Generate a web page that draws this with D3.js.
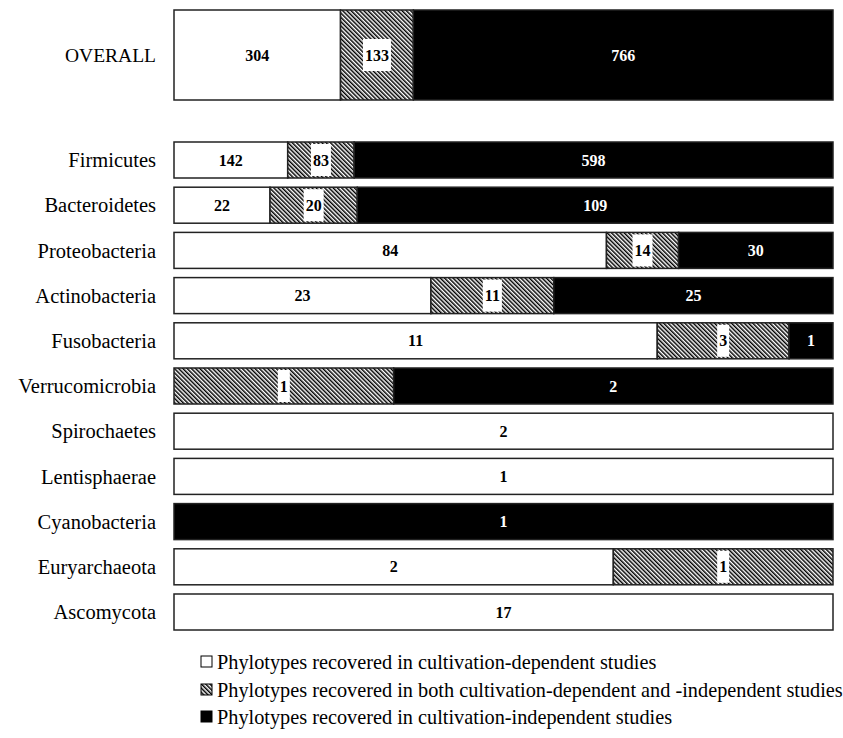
<!DOCTYPE html>
<html><head><meta charset="utf-8">
<script src="https://cdn.jsdelivr.net/npm/d3@7"></script>
<style>body{margin:0;background:#fff}svg{display:block}</style>
</head><body>
<script>
const overallLabel = "OVERALL";
const overallValues = [304, 133, 766];
const categories = ["Firmicutes","Bacteroidetes","Proteobacteria","Actinobacteria","Fusobacteria","Verrucomicrobia","Spirochaetes","Lentisphaerae","Cyanobacteria","Euryarchaeota","Ascomycota"];
const dependent   = [142, 22, 84, 23, 11, 0, 2, 1, 0, 2, 17];
const both        = [83, 20, 14, 11, 3, 1, 0, 0, 0, 1, 0];
const independent = [598, 109, 30, 25, 1, 2, 0, 0, 1, 0, 0];
const seriesNames = ["Phylotypes recovered in cultivation-dependent studies",
  "Phylotypes recovered in both cultivation-dependent and -independent studies",
  "Phylotypes recovered in cultivation-independent studies"];

const W = 843, H = 738;
const svg = d3.select("body").append("svg").attr("width", W).attr("height", H);
const defs = svg.append("defs");
const pat = defs.append("pattern").attr("id","hatch").attr("patternUnits","userSpaceOnUse")
  .attr("width",3).attr("height",3).attr("patternTransform","rotate(-45)");
pat.append("rect").attr("width",3).attr("height",3).attr("fill","#fff");
pat.append("rect").attr("x",0).attr("width",1.5).attr("height",3).attr("fill","#000");

const fills = ["#fff","url(#hatch)","#000"];
const x0 = 174, x1 = 833;
const font = "'Liberation Serif','Times New Roman',serif";

const rows = [{name: overallLabel, vals: overallValues, y: 10, h: 90, overall: true}];
const yBand = d3.scaleBand().domain(categories).range([142, 630]).paddingInner(0.2035);
categories.forEach((c,i) => rows.push({name: c, vals: [dependent[i], both[i], independent[i]], y: yBand(c), h: yBand.bandwidth()}));

rows.forEach(r => {
  const total = d3.sum(r.vals);
  const xs = d3.scaleLinear().domain([0,total]).range([x0,x1]);
  const g = svg.append("g");
  let acc = 0;
  const segs = r.vals.map((v,k) => { const s = {k, v, a: acc, b: acc+v}; acc += v; return s; }).filter(s => s.v > 0);
  segs.forEach(s => {
    g.append("rect").attr("x", xs(s.a)).attr("y", r.y).attr("width", xs(s.b)-xs(s.a)).attr("height", r.h)
      .attr("fill", fills[s.k]).attr("stroke","#222").attr("stroke-width",1.5);
  });
  segs.forEach(s => {
    const cx = (xs(s.a)+xs(s.b))/2, cy = r.y + r.h/2;
    const t = g.append("text").attr("x",cx).attr("y",cy).attr("dy","0.35em").attr("text-anchor","middle")
      .attr("font-family",font).attr("font-weight","bold").attr("font-size",16)
      .attr("fill", s.k===2 ? "#fff" : "#000").text(s.v);
    if (s.k === 1) {
      const bb = t.node().getBBox();
      g.insert("rect", "text").attr("x", bb.x-2).attr("y", cy - (r.overall ? 16 : r.h/2 - 2))
        .attr("width", bb.width+4).attr("height", r.overall ? 32 : r.h - 4).attr("fill","#fff");
    }
  });
  svg.append("text").attr("x", 156).attr("y", r.y + r.h/2).attr("dy","0.35em").attr("text-anchor","end")
    .attr("font-family",font).attr("font-size", r.overall ? 19.5 : 20.5).attr("fill","#000").text(r.name);
});

const legY = [662, 690, 717];
seriesNames.forEach((n,i) => {
  svg.append("rect").attr("x",201).attr("y",legY[i]-6).attr("width",11).attr("height",11)
    .attr("fill",fills[i]).attr("stroke","#000").attr("stroke-width",1);
  svg.append("text").attr("x",217).attr("y",legY[i]).attr("dy","0.35em")
    .attr("font-family",font).attr("font-size",20.3).attr("fill","#000").text(n);
});
</script>
</body></html>
